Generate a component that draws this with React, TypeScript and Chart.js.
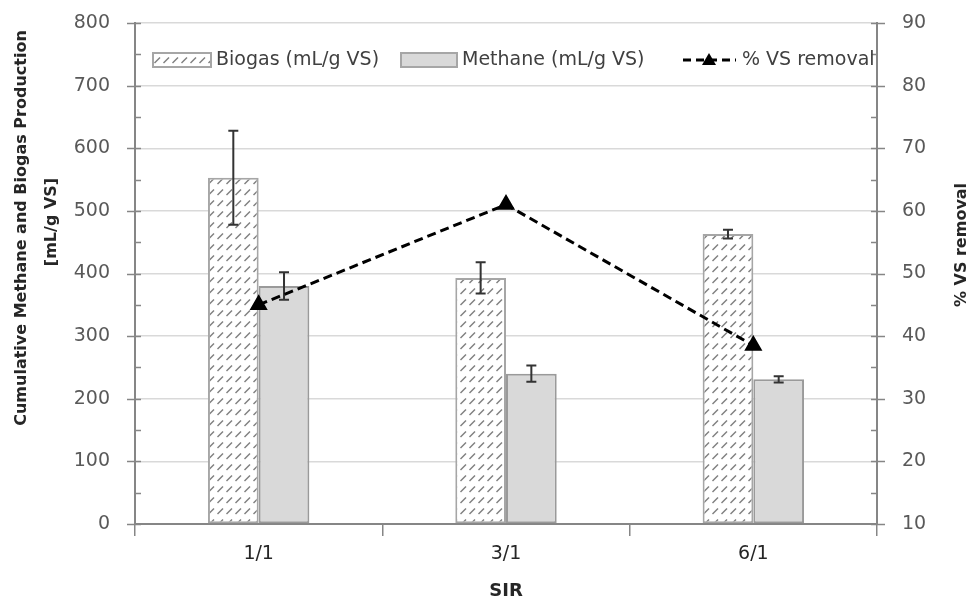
import React, { useEffect, useRef } from 'react';
import { Chart, registerables } from 'chart.js';
Chart.register(...registerables);

const categories = ['1/1', '3/1', '6/1'];
const biogas = [553, 393, 463];
const biogasErr = [75, 25, 7];
const methane = [380, 240, 231];
const methaneErr = [22, 13, 5];
const vsRemoval = [45, 61, 38.5];
const leftTitle = ['Cumulative Methane and Biogas Production', '[mL/g VS]'];
const rightTitle = '% VS removal';
const xTitle = 'SIR';
const legendLabels = ['Biogas (mL/g VS)', 'Methane (mL/g VS)', '% VS removal'];

const FONT = '"DejaVu Sans", "Open Sans", sans-serif';

function makePattern(): CanvasPattern | string {
  const c = document.createElement('canvas');
  c.width = 9;
  c.height = 11;
  const g = c.getContext('2d');
  if (!g) return '#fff';
  g.fillStyle = '#ffffff';
  g.fillRect(0, 0, 9, 11);
  g.strokeStyle = '#7f7f7f';
  g.lineWidth = 1.4;
  g.beginPath();
  g.moveTo(1.5, 8);
  g.lineTo(7, 2.5);
  g.stroke();
  const p = g.createPattern(c, 'repeat');
  return p || '#fff';
}

export default function App() {
  const ref = useRef<HTMLCanvasElement | null>(null);
  useEffect(() => {
    if (!ref.current) return;
    const pattern = makePattern();

    const errorBars = {
      id: 'errorBars',
      afterDatasetDraw(chart: any, args: any) {
        const sets: any = { 0: [biogas, biogasErr], 1: [methane, methaneErr] };
        const s = sets[args.index];
        if (!s) return;
        const [vals, errs] = s;
        const ctx = chart.ctx;
        const y = chart.scales.y;
        const meta = chart.getDatasetMeta(args.index);
        ctx.save();
        ctx.strokeStyle = '#333333';
        ctx.lineWidth = 2;
        meta.data.forEach((bar: any, i: number) => {
          const x = bar.x;
          const t = y.getPixelForValue(vals[i] + errs[i]);
          const b = y.getPixelForValue(vals[i] - errs[i]);
          ctx.beginPath();
          ctx.moveTo(x, t);
          ctx.lineTo(x, b);
          ctx.moveTo(x - 5, t);
          ctx.lineTo(x + 5, t);
          ctx.moveTo(x - 5, b);
          ctx.lineTo(x + 5, b);
          ctx.stroke();
        });
        ctx.restore();
      },
    };

    const extras = {
      id: 'extras',
      afterDraw(chart: any) {
        const ctx = chart.ctx;
        const a = chart.chartArea;
        const y = chart.scales.y;
        const y2 = chart.scales.y2;
        ctx.save();
        ctx.strokeStyle = '#868686';
        ctx.lineWidth = 1.5;
        for (let v = 0; v <= 800; v += 50) {
          const py = Math.round(y.getPixelForValue(v)) + 0.5;
          ctx.beginPath();
          if (v % 100 === 0) {
            ctx.moveTo(a.left - 8, py);
            ctx.lineTo(a.left + 6, py);
          } else {
            ctx.moveTo(a.left, py);
            ctx.lineTo(a.left + 6, py);
          }
          ctx.stroke();
        }
        for (let v = 10; v <= 90; v += 5) {
          const py = Math.round(y2.getPixelForValue(v)) + 0.5;
          ctx.beginPath();
          if (v % 10 === 0) {
            ctx.moveTo(a.right - 6, py);
            ctx.lineTo(a.right + 8, py);
          } else {
            ctx.moveTo(a.right - 6, py);
            ctx.lineTo(a.right, py);
          }
          ctx.stroke();
        }
        // axis titles
        ctx.fillStyle = '#262626';
        ctx.textAlign = 'center';
        ctx.textBaseline = 'middle';
        ctx.font = 'bold 16px ' + FONT;
        ctx.save();
        ctx.translate(22, 228);
        ctx.rotate(-Math.PI / 2);
        ctx.fillText(leftTitle[0], 0, 0);
        ctx.restore();
        ctx.save();
        ctx.translate(52, 222);
        ctx.rotate(-Math.PI / 2);
        ctx.fillText(leftTitle[1], 0, 0);
        ctx.restore();
        ctx.font = 'bold 16px ' + FONT;
        ctx.save();
        ctx.translate(962, 245);
        ctx.rotate(-Math.PI / 2);
        ctx.fillText(rightTitle, 0, 0);
        ctx.restore();
        ctx.font = 'bold 18px ' + FONT;
        ctx.fillText(xTitle, (a.left + a.right) / 2, 591);

        // legend
        const ly = 60;
        ctx.font = '19px ' + FONT;
        ctx.textAlign = 'left';
        ctx.fillStyle = pattern as any;
        ctx.fillRect(153, ly - 7, 58, 14);
        ctx.strokeStyle = '#a6a6a6';
        ctx.lineWidth = 2;
        ctx.strokeRect(153, ly - 7, 58, 14);
        ctx.fillStyle = '#404040';
        ctx.fillText(legendLabels[0], 216, ly);
        ctx.fillStyle = '#d9d9d9';
        ctx.fillRect(401, ly - 7, 56, 14);
        ctx.strokeStyle = '#a6a6a6';
        ctx.strokeRect(401, ly - 7, 56, 14);
        ctx.fillStyle = '#404040';
        ctx.fillText(legendLabels[1], 462, ly);
        ctx.strokeStyle = '#000';
        ctx.lineWidth = 3;
        ctx.setLineDash([8, 5]);
        ctx.beginPath();
        ctx.moveTo(683, ly);
        ctx.lineTo(736, ly);
        ctx.stroke();
        ctx.setLineDash([]);
        ctx.fillStyle = '#000';
        ctx.beginPath();
        ctx.moveTo(709, ly - 7);
        ctx.lineTo(716, ly + 5);
        ctx.lineTo(702, ly + 5);
        ctx.closePath();
        ctx.fill();
        ctx.save();
        ctx.beginPath();
        ctx.rect(0, 0, a.right - 1, 604);
        ctx.clip();
        ctx.fillStyle = '#404040';
        ctx.fillText(legendLabels[2], 742, ly);
        ctx.restore();
        ctx.restore();
      },
    };

    const fitY = (w: number) => (s: any) => {
      s.width = w;
      s.paddingTop = 0;
      s.paddingBottom = 0;
    };

    const chart = new Chart(ref.current, {
      type: 'bar',
      data: {
        labels: categories,
        datasets: [
          {
            type: 'bar',
            label: legendLabels[0],
            data: biogas,
            backgroundColor: pattern as any,
            borderColor: '#a6a6a6',
            borderWidth: 2,
            borderSkipped: false,
            yAxisID: 'y',
            order: 1,
          },
          {
            type: 'bar',
            label: legendLabels[1],
            data: methane,
            backgroundColor: '#d9d9d9',
            borderColor: '#9a9a9a',
            borderWidth: 2,
            borderSkipped: false,
            yAxisID: 'y',
            order: 1,
          },
          {
            type: 'line',
            label: legendLabels[2],
            data: vsRemoval,
            borderColor: '#000000',
            borderWidth: 3,
            borderDash: [9, 5],
            pointStyle: 'triangle',
            pointRadius: 7.5,
            pointBackgroundColor: '#000',
            pointBorderColor: '#000',
            fill: false,
            tension: 0,
            yAxisID: 'y2',
            order: 0,
          } as any,
        ],
      },
      options: {
        animation: false,
        responsive: true,
        maintainAspectRatio: false,
        layout: { padding: { top: 23, left: 0, right: 0, bottom: 0 } },
        datasets: { bar: { categoryPercentage: 0.41, barPercentage: 1 } } as any,
        plugins: { legend: { display: false }, tooltip: { enabled: false } },
        scales: {
          x: {
            offset: true,
            grid: {
              offset: true,
              drawOnChartArea: false,
              drawTicks: true,
              tickLength: 12,
              color: '#868686',
              lineWidth: 1.5,
            },
            border: { color: '#868686', width: 2 },
            ticks: { color: '#262626', font: { family: FONT, size: 19 }, padding: 7 },
            afterFit: (s: any) => { s.height = 80; s.paddingLeft = 0; s.paddingRight = 0; },
          },
          y: {
            position: 'left',
            min: 0,
            max: 800,
            ticks: { stepSize: 100, color: '#595959', font: { family: FONT, size: 19 }, padding: 25 },
            grid: { color: '#d9d9d9', lineWidth: 1.5, drawTicks: false },
            border: { color: '#868686', width: 2 },
            afterFit: fitY(135),
          },
          y2: {
            position: 'right',
            min: 10,
            max: 90,
            ticks: { stepSize: 10, color: '#595959', font: { family: FONT, size: 19 }, padding: 25 },
            grid: { drawOnChartArea: false, drawTicks: false },
            border: { color: '#868686', width: 2 },
            afterFit: fitY(96),
          },
        },
      },
      plugins: [errorBars, extras],
    });
    return () => chart.destroy();
  }, []);

  return (
    <div style={{ position: 'fixed', left: 0, top: 0, width: 973, height: 604, background: '#fff' }}>
      <canvas ref={ref} />
    </div>
  );
}
